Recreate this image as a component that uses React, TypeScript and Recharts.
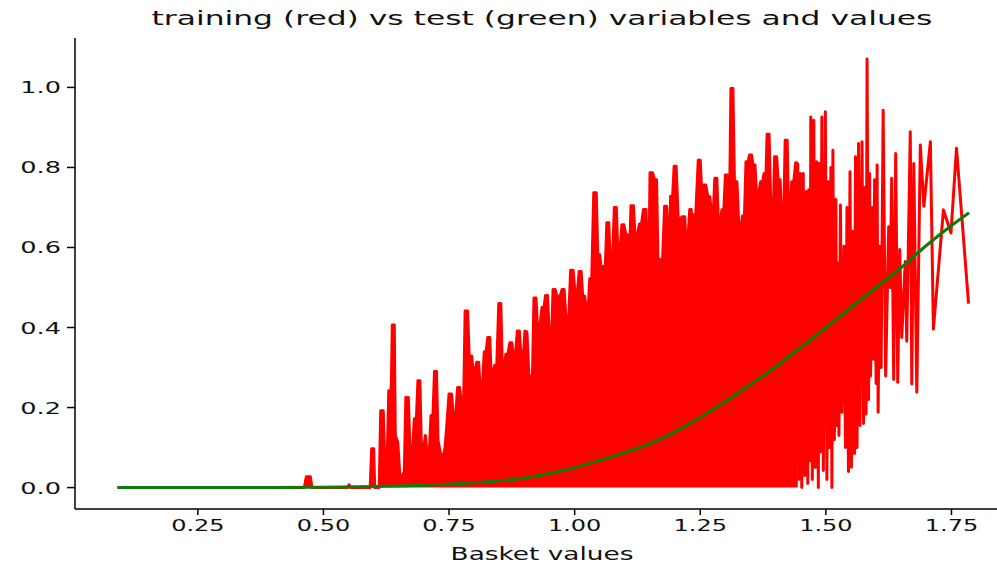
import React from 'react';
import { ComposedChart, Area, Line, XAxis, YAxis } from 'recharts';

// training values, dense part (drawn filled, the spikes are too close to separate)
const trainBody: [number, number][] = [
  [0.09, 0], [0.462, 0], [0.466, 0.027], [0.474, 0.027], [0.477, 0], [0.548, 0], [0.551, 0.007], [0.554, 0],
  [0.593, 0], [0.596, 0.097], [0.6, 0.097], [0.602, 0], [0.611, 0], [0.614, 0.192], [0.619, 0.192], [0.622, 0.072],
  [0.627, 0.072], [0.63, 0.242], [0.635, 0.242], [0.637, 0.406], [0.641, 0.406], [0.643, 0.13], [0.648, 0.113],
  [0.652, 0.03], [0.657, 0.03], [0.661, 0.04], [0.664, 0.225], [0.669, 0.225], [0.673, 0.06], [0.677, 0.089],
  [0.681, 0.172], [0.685, 0.172], [0.688, 0.267], [0.692, 0.267], [0.695, 0.093], [0.699, 0.097], [0.703, 0.13],
  [0.707, 0.068], [0.71, 0.068], [0.714, 0.18], [0.718, 0.182], [0.721, 0.29], [0.725, 0.29], [0.728, 0.118],
  [0.733, 0.085], [0.738, 0.076], [0.742, 0.1], [0.745, 0.147], [0.75, 0.234], [0.755, 0.234], [0.759, 0.172],
  [0.763, 0.172], [0.767, 0.25], [0.771, 0.25], [0.775, 0.209], [0.779, 0.209], [0.782, 0.441], [0.787, 0.441],
  [0.79, 0.329], [0.795, 0.329], [0.798, 0.292], [0.802, 0.292], [0.805, 0.313], [0.809, 0.313], [0.812, 0.242],
  [0.816, 0.242], [0.82, 0.339], [0.824, 0.342], [0.827, 0.375], [0.831, 0.375], [0.834, 0.279], [0.838, 0.29],
  [0.841, 0.306], [0.845, 0.306], [0.849, 0.46], [0.853, 0.46], [0.856, 0.3], [0.86, 0.3], [0.863, 0.333],
  [0.867, 0.333], [0.871, 0.362], [0.875, 0.362], [0.878, 0.329], [0.882, 0.329], [0.886, 0.391], [0.89, 0.391],
  [0.894, 0.313], [0.898, 0.329], [0.901, 0.391], [0.905, 0.389], [0.909, 0.279], [0.916, 0.279], [0.919, 0.474],
  [0.923, 0.474], [0.927, 0.379], [0.931, 0.404], [0.935, 0.45], [0.939, 0.45], [0.942, 0.48], [0.946, 0.48],
  [0.95, 0.366], [0.954, 0.366], [0.957, 0.495], [0.961, 0.495], [0.965, 0.478], [0.971, 0.478], [0.975, 0.495],
  [0.979, 0.495], [0.983, 0.416], [0.988, 0.416], [0.992, 0.543], [0.997, 0.543], [1.001, 0.483], [1.005, 0.483],
  [1.009, 0.54], [1.013, 0.54], [1.016, 0.478], [1.02, 0.478], [1.023, 0.447], [1.027, 0.447], [1.03, 0.522],
  [1.034, 0.522], [1.038, 0.737], [1.043, 0.737], [1.046, 0.582], [1.05, 0.582], [1.053, 0.54], [1.057, 0.553],
  [1.061, 0.553], [1.064, 0.662], [1.068, 0.662], [1.071, 0.553], [1.075, 0.553], [1.079, 0.7], [1.083, 0.7],
  [1.086, 0.586], [1.09, 0.586], [1.094, 0.657], [1.098, 0.657], [1.102, 0.632], [1.105, 0.632], [1.107, 0.574],
  [1.11, 0.6], [1.112, 0.704], [1.117, 0.704], [1.12, 0.632], [1.125, 0.632], [1.129, 0.659], [1.133, 0.659],
  [1.137, 0.695], [1.142, 0.695], [1.145, 0.57], [1.148, 0.57], [1.15, 0.787], [1.155, 0.787], [1.159, 0.769],
  [1.163, 0.769], [1.166, 0.557], [1.171, 0.57], [1.175, 0.57], [1.179, 0.703], [1.183, 0.703], [1.186, 0.628],
  [1.189, 0.628], [1.191, 0.728], [1.195, 0.728], [1.198, 0.803], [1.202, 0.803], [1.206, 0.673], [1.211, 0.673],
  [1.214, 0.677], [1.219, 0.677], [1.223, 0.57], [1.229, 0.695], [1.232, 0.695], [1.234, 0.64], [1.237, 0.682],
  [1.241, 0.682], [1.246, 0.818], [1.25, 0.818], [1.253, 0.736], [1.257, 0.756], [1.261, 0.756], [1.265, 0.727],
  [1.269, 0.727], [1.272, 0.687], [1.276, 0.687], [1.279, 0.773], [1.283, 0.773], [1.286, 0.661], [1.29, 0.661],
  [1.293, 0.694], [1.297, 0.694], [1.3, 0.781], [1.304, 0.781], [1.306, 0.777], [1.309, 0.777], [1.311, 0.997],
  [1.315, 0.997], [1.318, 0.764], [1.323, 0.764], [1.327, 0.648], [1.331, 0.648], [1.334, 0.679], [1.338, 0.679],
  [1.341, 0.814], [1.345, 0.814], [1.348, 0.831], [1.352, 0.831], [1.355, 0.806], [1.359, 0.806], [1.362, 0.731],
  [1.366, 0.731], [1.37, 0.764], [1.374, 0.764], [1.377, 0.785], [1.381, 0.785], [1.383, 0.883], [1.387, 0.883],
  [1.391, 0.669], [1.395, 0.669], [1.398, 0.827], [1.402, 0.827], [1.405, 0.769], [1.409, 0.769], [1.412, 0.665],
  [1.416, 0.665], [1.419, 0.868], [1.423, 0.868], [1.426, 0.669], [1.429, 0.669], [1.432, 0.764], [1.436, 0.764],
  [1.44, 0.812], [1.444, 0.812],
];

// training values, sparse right end
const trainTail: [number, number][] = [
  [1.444, 0.812], [1.446, 0.02], [1.449, 0.785], [1.452, 0], [1.455, 0.785], [1.458, 0.03], [1.461, 0.74],
  [1.464, 0.01], [1.466, 0.744], [1.468, 0.068], [1.47, 0.926], [1.473, 0.02], [1.476, 0.918], [1.479, 0.05],
  [1.482, 0.814], [1.485, 0], [1.487, 0.81], [1.489, 0.089], [1.492, 0.926], [1.495, 0.043], [1.499, 0.939],
  [1.502, 0.02], [1.505, 0.764], [1.507, 0.1], [1.51, 0.8], [1.512, 0], [1.514, 0.843], [1.517, 0.12],
  [1.52, 0.72], [1.522, 0.155], [1.524, 0.561], [1.526, 0.13], [1.529, 0.706], [1.532, 0.188], [1.536, 0.603],
  [1.539, 0.1], [1.542, 0.7], [1.545, 0.04], [1.548, 0.789], [1.551, 0.051], [1.554, 0.64], [1.557, 0.085],
  [1.559, 0.827], [1.562, 0.1], [1.565, 0.86], [1.568, 0.155], [1.572, 0.864], [1.575, 0.16], [1.578, 0.75],
  [1.58, 0.184], [1.582, 1.071], [1.585, 0.22], [1.587, 0.785], [1.589, 0.279], [1.592, 0.7], [1.595, 0.321],
  [1.597, 0.769], [1.6, 0.26], [1.602, 0.806], [1.604, 0.188], [1.607, 0.603], [1.61, 0.3], [1.614, 0.943],
  [1.619, 0.279], [1.625, 0.652], [1.628, 0.5], [1.631, 0.773], [1.635, 0.27], [1.639, 0.835], [1.643, 0.263],
  [1.647, 0.595], [1.651, 0.375], [1.658, 0.565], [1.661, 0.366], [1.668, 0.889], [1.671, 0.259], [1.675, 0.81],
  [1.681, 0.238], [1.688, 0.856], [1.695, 0.703], [1.708, 0.864], [1.714, 0.396], [1.734, 0.694], [1.749, 0.636],
  [1.76, 0.848], [1.784, 0.46],
];

// test curve
const testCurve: [number, number][] = [
  [0.09, 0], [0.2, 0], [0.3, 0], [0.4, 0], [0.5, 0.001], [0.6, 0.003], [0.7, 0.006], [0.8, 0.012], [0.85, 0.017],
  [0.9, 0.024], [0.95, 0.035], [1.0, 0.05], [1.05, 0.068], [1.1, 0.088], [1.15, 0.11], [1.2, 0.14], [1.25, 0.175],
  [1.3, 0.215], [1.35, 0.258], [1.4, 0.302], [1.45, 0.35], [1.5, 0.4], [1.55, 0.45], [1.6, 0.5], [1.65, 0.55],
  [1.7, 0.605], [1.75, 0.655], [1.785, 0.687],
];

const xTicks = [0.25, 0.5, 0.75, 1.0, 1.25, 1.5, 1.75];
const yTicks = [0, 0.2, 0.4, 0.6, 0.8, 1.0];
const xDomain: [number, number] = [0.0055, 1.8645];
const yDomain: [number, number] = [-0.0535, 1.1235];

const rows = [
  ...trainBody.map(([x, y]) => ({ x, body: y })),
  ...trainTail.map(([x, y]) => ({ x, tail: y })),
  ...testCurve.map(([x, y]) => ({ x, test: y })),
];

const FONT = '"DejaVu Sans", sans-serif';

const XTick = ({ x, y, payload }: any) => (
  <g transform={`translate(${x},${y})`}>
    <text transform="scale(1.5,1)" textAnchor="middle" dy={12} fontSize={16} fill="#111" fontFamily={FONT}>
      {Number(payload.value).toFixed(2)}
    </text>
  </g>
);

const YTick = ({ x, y, payload }: any) => (
  <g transform={`translate(${x},${y})`}>
    <text transform="scale(1.6,1)" textAnchor="end" dy={6} fontSize={16} fill="#111" fontFamily={FONT}>
      {Number(payload.value).toFixed(1)}
    </text>
  </g>
);

export default function App() {
  return (
    <div style={{ position: 'absolute', left: 0, top: 0, width: 997, height: 565, overflow: 'hidden', background: '#fff' }}>
      <ComposedChart width={1030} height={565} data={rows} margin={{ top: 38, right: 21, bottom: 0, left: 0 }}>
        <XAxis
          dataKey="x"
          type="number"
          domain={xDomain}
          ticks={xTicks}
          allowDataOverflow
          height={56}
          tickSize={6}
          tickMargin={4}
          stroke="#000"
          strokeWidth={1.5}
          tick={(p: any) => <XTick {...p} />}
        />
        <XAxis xAxisId="top" orientation="top" type="number" domain={xDomain} allowDataOverflow height={0} tick={false} tickLine={false} stroke="#000" strokeWidth={1.5} />
        <YAxis
          type="number"
          domain={yDomain}
          ticks={yTicks}
          allowDataOverflow
          width={75}
          tickSize={8}
          tickMargin={6}
          stroke="#000"
          strokeWidth={1.5}
          tick={(p: any) => <YTick {...p} />}
        />
        <YAxis yAxisId="right" orientation="right" type="number" domain={yDomain} width={0} tick={false} tickLine={false} stroke="#000" strokeWidth={1.5} />
        <Area
          dataKey="body"
          type="linear"
          baseValue={0}
          stroke="#ff0000"
          strokeWidth={3}
          strokeLinejoin="round"
          fill="#ff0000"
          fillOpacity={1}
          connectNulls
          dot={false}
          activeDot={false}
          isAnimationActive={false}
        />
        <Line dataKey="tail" type="linear" stroke="#ff0000" strokeWidth={3} strokeLinejoin="round" connectNulls dot={false} activeDot={false} isAnimationActive={false} />
        <Line dataKey="test" type="monotone" stroke="#0c7d0c" strokeWidth={3} connectNulls dot={false} activeDot={false} isAnimationActive={false} />
      </ComposedChart>
      <div style={{ position: 'absolute', left: 0, top: 9, width: 1084, textAlign: 'center', fontFamily: FONT, fontSize: 19, lineHeight: '19px', color: '#111', transform: 'scaleX(1.65)' }}>
        training (red) vs test (green) variables and values
      </div>
      <div style={{ position: 'absolute', left: 0, top: 546, width: 1084, textAlign: 'center', fontFamily: FONT, fontSize: 17, lineHeight: '17px', color: '#111', transform: 'scaleX(1.55)' }}>
        Basket values
      </div>
    </div>
  );
}
